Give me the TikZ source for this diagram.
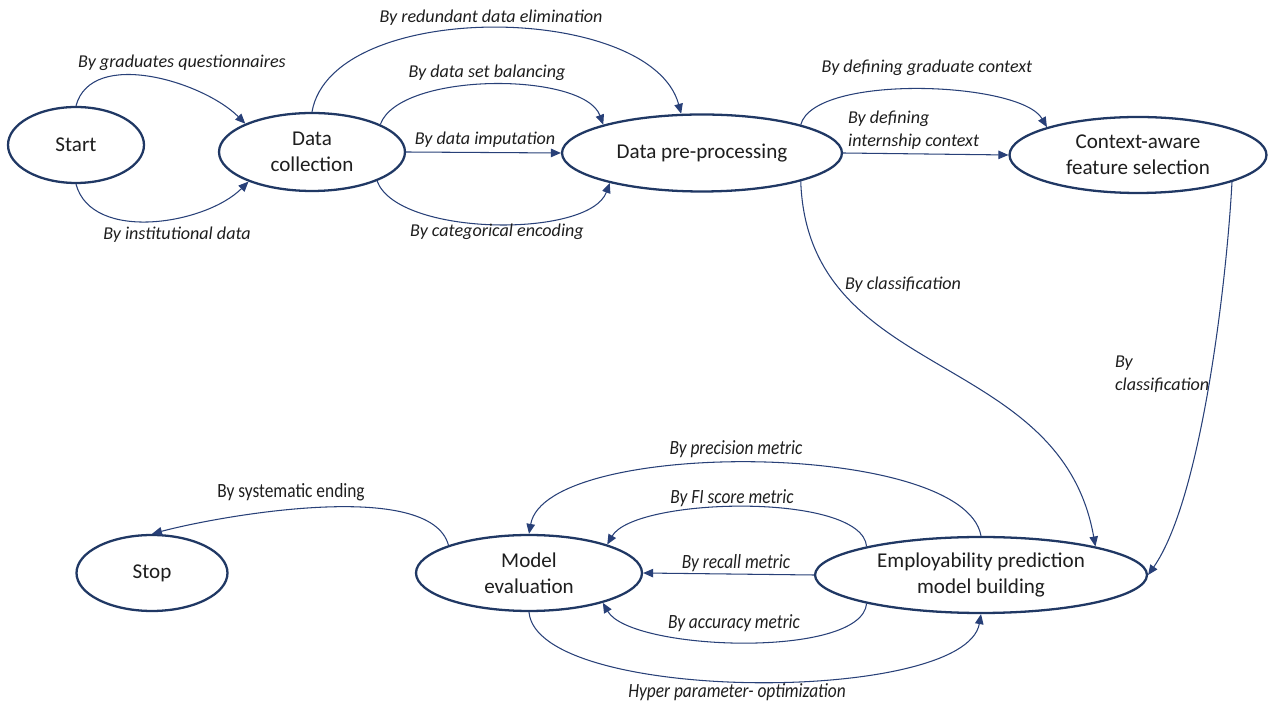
\documentclass[tikz,border=0pt]{standalone}
\usepackage{fontspec}
\setmainfont{Carlito}
\newfontfamily\narrowfont[FakeStretch=0.86]{Carlito}
\usetikzlibrary{arrows.meta,shapes.geometric}
\definecolor{navyline}{RGB}{32,56,100}
\definecolor{navyarrow}{RGB}{40,64,120}
\definecolor{texto}{RGB}{30,30,30}
\tikzset{
  etapa/.style={
    ellipse,
    draw=navyline,
    line width=1.3pt,
    fill=white,
    align=center,
    inner sep=0pt,
    text=texto,
    font=\fontsize{12}{15}\selectfont
  },
  etiq/.style={
    align=center,
    inner sep=1pt,
    text=texto,
    font=\fontsize{10.3}{13}\selectfont\itshape
  },
  etiqb/.style={
    align=center,
    inner sep=1pt,
    text=texto,
    font=\narrowfont\fontsize{11.5}{13}\selectfont\itshape
  },
  arrow/.style={
    -{Triangle[length=2mm,width=1.7mm]},
    line width=0.6pt,
    navyarrow
  }
}

\begin{document}
\begin{tikzpicture}[x=0.02cm,y=0.02cm]
\useasboundingbox (0,0) rectangle (1271,703);
% stages
\node[etapa,minimum width=2.72cm,minimum height=1.52cm] (start) at (76,558) {Start};
\node[etapa,minimum width=3.72cm,minimum height=1.56cm] (collect) at (312,551) {Data\\collection};
\node[etapa,minimum width=5.6cm,minimum height=1.54cm] (prep) at (702,550) {Data pre-processing};
\node[etapa,minimum width=5.14cm,minimum height=1.52cm] (ctx) at (1138,548) {Context-aware\\feature selection};
\node[etapa,minimum width=3.02cm,minimum height=1.52cm] (stop) at (152,130) {Stop};
\node[etapa,minimum width=4.52cm,minimum height=1.52cm] (eval) at (529,130) {Model\\evaluation};
\node[etapa,minimum width=6.64cm,minimum height=1.52cm] (build) at (981,128) {Employability prediction\\model building};

% top row
\draw[arrow] (start.north) to[out=75,in=135,looseness=0.9] (collect.157);
\draw[arrow] (start.south) to[out=-75,in=-135,looseness=0.9] (collect.205);
\draw[arrow] (collect.north) to[out=80,in=105,looseness=0.8] (prep.118);
\draw[arrow] (collect.22) to[out=70,in=110,looseness=0.65] (prep.164);
\draw[arrow] (collect.east) -- (prep.west);
\draw[arrow] (collect.-24) to[out=-70,in=-110,looseness=0.65] (prep.198);
\draw[arrow] (prep.16) to[out=75,in=120,looseness=0.55] (ctx.163);
\draw[arrow] (prep.east) -- (ctx.west);

% down to model building
\draw[arrow] (prep.-16) to[out=-88,in=100,looseness=1.1] (build.14);
\draw[arrow] (ctx.-16) to[out=-93,in=55,looseness=0.6] (build.east);

% bottom row
\draw[arrow] (eval.161) to[out=105,in=15,looseness=0.6] (stop.north);
\draw[arrow] (build.north) to[out=100,in=80,looseness=0.55] (eval.north);
\draw[arrow] (build.166) to[out=95,in=60,looseness=0.54] (eval.20);
\draw[arrow] (build.west) -- (eval.east);
\draw[arrow] (build.194) to[out=-95,in=-60,looseness=0.54] (eval.-22);
\draw[arrow] (eval.south) to[out=-85,in=-100,looseness=0.52] (build.south);

% labels
\node[etiq] (lquest) at (182,640) {By graduates questionnaires};
\node[etiq] (linst) at (177,468) {By institutional data};
\node[etiq] (lredund) at (491,685) {By redundant data elimination};
\node[etiq] (lbalance) at (487,630) {By data set balancing};
\node[etiq] (limput) at (485,563) {By data imputation};
\node[etiq] (lencode) at (497,471) {By categorical encoding};
\node[etiq] (lgrad) at (927,635) {By defining graduate context};
\node[etiq,align=left,anchor=west] (lintern) at (846,573) {By defining\\internship context};
\node[etiq] (lclass) at (903,418) {By classification};
\node[etiq,align=left,anchor=west] (lclassb) at (1113,329) {By\\classification};
\node[etiqb,font=\narrowfont\fontsize{11.5}{13}\selectfont] (lend) at (291,211) {By systematic ending};
\node[etiqb] (lprec) at (736,254) {By precision metric};
\node[etiqb] (lfone) at (732,205) {By FI score metric};
\node[etiqb] (lrecall) at (736,140) {By recall metric};
\node[etiqb] (lacc) at (734,80) {By accuracy metric};
\node[etiqb] (lhyper) at (737,11) {Hyper parameter- optimization};
\end{tikzpicture}
\end{document}
